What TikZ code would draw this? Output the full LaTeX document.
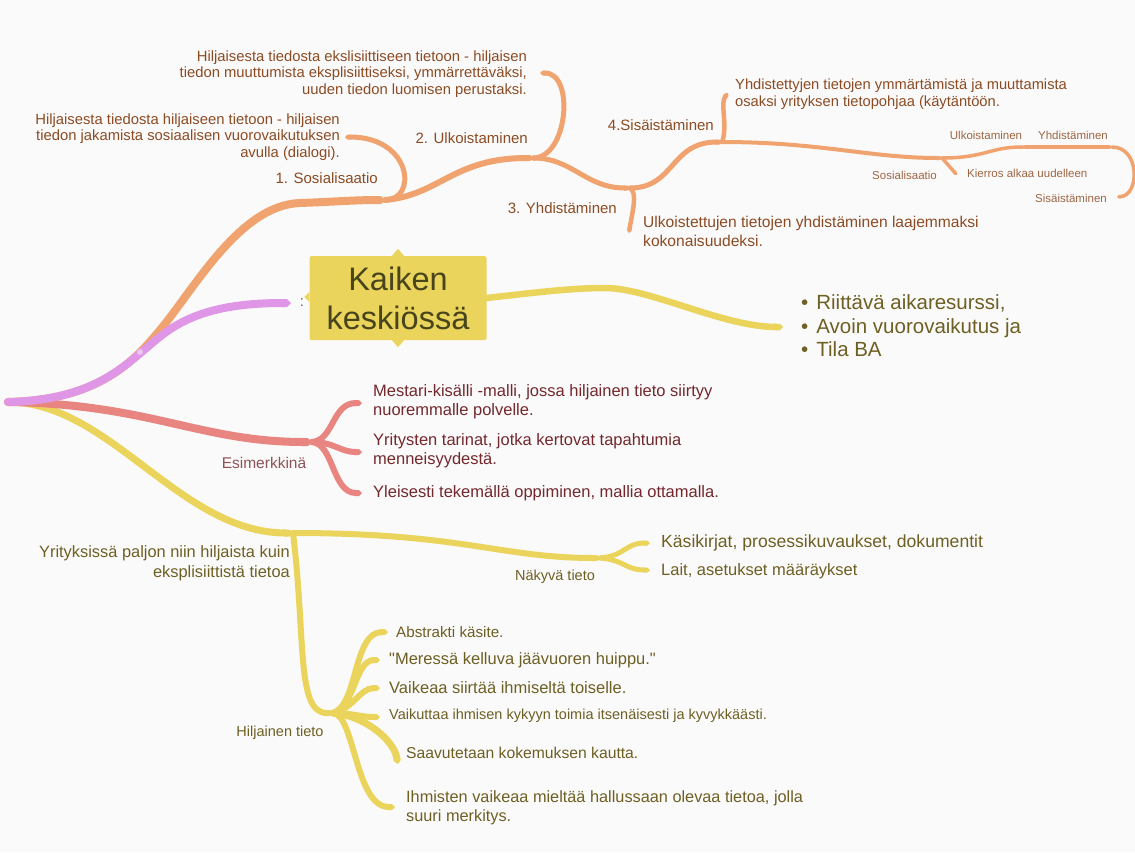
\documentclass[tikz,border=0pt]{standalone}
\usepackage{fontspec}
\setmainfont{Liberation Sans}
\usetikzlibrary{arrows.meta}

\definecolor{bgcol}{RGB}{250,250,250}
\definecolor{orangecol}{RGB}{240,163,110}
\definecolor{pinkcol}{RGB}{224,150,230}
\definecolor{redcol}{RGB}{232,133,128}
\definecolor{yellowcol}{RGB}{234,212,92}
\definecolor{orangetxt}{RGB}{140,75,35}
\definecolor{redtxt}{RGB}{115,40,45}
\definecolor{yellowtxt}{RGB}{110,95,35}
\definecolor{centretxt}{RGB}{72,68,28}

% straight double quote, kept away from the tex-text mapping
\newcommand\dquote{\XeTeXglyph\XeTeXcharglyph"22\relax}

\begin{document}
\begin{tikzpicture}[
  x=1pt, y=-1pt,
  every node/.style={inner sep=0pt},
  branch/.style={line cap=round, -{Triangle Cap[]}},
  obranch/.style={branch, draw=orangecol},
  pbranch/.style={branch, draw=pinkcol},
  rbranch/.style={branch, draw=redcol},
  ybranch/.style={branch, draw=yellowcol},
  otext/.style={text=orangetxt, font=\fontsize{14.8}{16.5}\selectfont},
  olabel/.style={text=orangetxt, font=\fontsize{15}{18}\selectfont},
  otiny/.style={text=orangetxt!85, font=\fontsize{11.5}{14}\selectfont},
  rtext/.style={text=redtxt, font=\fontsize{16.5}{19}\selectfont, align=left},
  rlabel/.style={text=redtxt!80, font=\fontsize{15.5}{18}\selectfont},
  ytext/.style={text=yellowtxt, font=\fontsize{16.5}{19}\selectfont, align=left},
  ylabel/.style={text=yellowtxt, font=\fontsize{14.5}{17}\selectfont},
  centre/.style={fill=yellowcol, text=centretxt, rounded corners=1.5pt,
    minimum width=177pt, minimum height=84pt, align=center,
    font=\fontsize{32.5}{39}\selectfont}
]
  \useasboundingbox (0,0) rectangle (1135,852);
  \fill[bgcol] (0,0) rectangle (1135,852);

  % branch points
  \coordinate (root) at (8,402);
  \coordinate (o1) at (160,330);
  \coordinate (o2) at (300,203);
  \coordinate (p1) at (150,345);
  \coordinate (j1) at (385,200);
  \coordinate (j2) at (533,158);
  \coordinate (j3) at (630,188);
  \coordinate (j4) at (722,142);
  \coordinate (j5) at (942,158);
  \coordinate (j6) at (1025,147);
  \coordinate (j7) at (1112,147);
  \coordinate (e1) at (345,137);
  \coordinate (e2) at (540,73);
  \coordinate (e3) at (629,233);
  \coordinate (e4) at (728,93);
  \coordinate (e5) at (957,175);
  \coordinate (e6) at (1117,197);
  \coordinate (pe) at (291,303);
  \coordinate (ym) at (605,288);
  \coordinate (bl) at (783,327);
  \coordinate (jr) at (312,442);
  \coordinate (r1) at (362,403);
  \coordinate (r2) at (362,452);
  \coordinate (r3) at (362,493);
  \coordinate (jy) at (293,533);
  \coordinate (jn) at (600,558);
  \coordinate (n1) at (650,543);
  \coordinate (n2) at (650,570);
  \coordinate (jh) at (333,713);
  \coordinate (h1) at (388,632);
  \coordinate (h2) at (380,660);
  \coordinate (h3) at (380,688);
  \coordinate (h4) at (380,717);
  \coordinate (h5) at (398,764);
  \coordinate (h6) at (395,807);

  % centre
  \node[centre] (centre) at (398,298) {Kaiken\\keskiössä};
  \fill[yellowcol] ([xshift=-6pt]centre.north) -- ++(6,-7) -- ++(6,7) -- cycle;
  \fill[yellowcol] ([xshift=-6pt]centre.south) -- ++(6,7) -- ++(6,-7) -- cycle;
  \fill[yellowcol] ([yshift=6pt]centre.west) -- ++(-5,5) -- ++(5,5) -- cycle;
  \node[text=centretxt!70!pinkcol, font=\fontsize{15}{18}\selectfont] (colon) at (302,303) {:};
  \node[ytext, font=\fontsize{20.5}{23.5}\selectfont, anchor=west] (list) at (801,326)
    {\textbullet\hspace{8pt}Riittävä aikaresurssi,\\
     \textbullet\hspace{8pt}Avoin vuorovaikutus ja\\
     \textbullet\hspace{8pt}Tila BA};

  % orange texts
  \node[otext, align=right, anchor=east] (sosD) at (340,137)
    {Hiljaisesta tiedosta hiljaiseen tietoon - hiljaisen\\
     tiedon jakamista sosiaalisen vuorovaikutuksen\\avulla (dialogi).};
  \node[olabel, anchor=east] (sosL) at (378,178) {1. Sosialisaatio};
  \node[otext, align=right, anchor=east] (ulkD) at (527,74)
    {Hiljaisesta tiedosta ekslisiittiseen tietoon - hiljaisen\\
     tiedon muuttumista eksplisiittiseksi, ymmärrettäväksi,\\
     uuden tiedon luomisen perustaksi.};
  \node[olabel, anchor=east] (ulkL) at (528,138) {2. Ulkoistaminen};
  \node[olabel, anchor=east] (yhdL) at (617,208) {3. Yhdistäminen};
  \node[otext, font=\fontsize{15.6}{19}\selectfont, align=left, anchor=west] (yhdD) at (643,231)
    {Ulkoistettujen tietojen yhdistäminen laajemmaksi\\kokonaisuudeksi.};
  \node[olabel, anchor=east] (sisL) at (714,125) {4.Sisäistäminen};
  \node[otext, font=\fontsize{14.7}{17}\selectfont, align=left, anchor=west] (sisD) at (735,94)
    {Yhdistettyjen tietojen ymmärtämistä ja muuttamista\\
     osaksi yrityksen tietopohjaa (käytäntöön.};
  \node[otiny, anchor=east] (kSos) at (937,175) {Sosialisaatio};
  \node[otiny, anchor=west] (kAlk) at (967,173) {Kierros alkaa uudelleen};
  \node[otiny] (kUlk) at (986,135) {Ulkoistaminen};
  \node[otiny] (kYhd) at (1073,135) {Yhdistäminen};
  \node[otiny, anchor=east] (kSis) at (1107,198) {Sisäistäminen};

  % red texts
  \node[rtext, anchor=west] (mest) at (373,402)
    {Mestari-kisälli -malli, jossa hiljainen tieto siirtyy\\nuoremmalle polvelle.};
  \node[rtext, anchor=west] (tari) at (373,451)
    {Yritysten tarinat, jotka kertovat tapahtumia\\menneisyydestä.};
  \node[rtext, anchor=west] (ylei) at (373,493)
    {Yleisesti tekemällä oppiminen, mallia ottamalla.};
  \node[rlabel] (esim) at (264,463) {Esimerkkinä};

  % yellow texts
  \node[ytext, align=right, font=\fontsize{16.4}{20}\selectfont, anchor=east] (yrit) at (290,563)
    {Yrityksissä paljon niin hiljaista kuin\\eksplisiittistä tietoa};
  \node[ylabel] (naky) at (555,577) {Näkyvä tieto};
  \node[ytext, font=\fontsize{17.6}{20}\selectfont, anchor=west] (kasi) at (661,543)
    {Käsikirjat, prosessikuvaukset, dokumentit};
  \node[ytext, anchor=west] (lait) at (661,571) {Lait, asetukset määräykset};
  \node[ylabel] (hilj) at (280,733) {Hiljainen tieto};
  \node[ytext, font=\fontsize{15.2}{18}\selectfont, anchor=west] (abs) at (396,632) {Abstrakti käsite.};
  \node[ytext, anchor=west] (mer) at (389,660) {\dquote Meressä kelluva jäävuoren huippu.\dquote};
  \node[ytext, anchor=west] (vaik) at (389,688) {Vaikeaa siirtää ihmiseltä toiselle.};
  \node[ytext, font=\fontsize{14.5}{17}\selectfont, anchor=west] (vkut) at (389,716)
    {Vaikuttaa ihmisen kykyyn toimia itsenäisesti ja kyvykkäästi.};
  \node[ytext, font=\fontsize{15.7}{18}\selectfont, anchor=west] (saav) at (406,753)
    {Saavutetaan kokemuksen kautta.};
  \node[ytext, font=\fontsize{16.3}{19}\selectfont, anchor=west] (ihm) at (406,808)
    {Ihmisten vaikeaa mieltää hallussaan olevaa tietoa, jolla\\suuri merkitys.};

  % yellow branch
  \draw[ybranch, line width=7pt] (root) .. controls +(102,0) and +(-113,0) .. (jy);
  \draw[ybranch, line width=6pt] (jy) .. controls +(170,0) and +(-100,0) .. (jn);
  \draw[ybranch, line width=5pt] (jn) .. controls +(25,-2) and +(-25,0) .. (n1);
  \draw[ybranch, line width=5pt] (jn) .. controls +(25,2) and +(-25,0) .. (n2);
  \draw[ybranch, line width=6pt] (jy) .. controls +(13,107) and +(-37,0) .. (jh);
  \draw[ybranch, line width=6pt] (jh) .. controls +(25,-8) and +(-35,0) .. (h1);
  \draw[ybranch, line width=6pt] (jh) .. controls +(22,-6) and +(-25,0) .. (h2);
  \draw[ybranch, line width=6pt] (jh) .. controls +(20,-4) and +(-20,0) .. (h3);
  \draw[ybranch, line width=6pt] (jh) .. controls +(20,0) and +(-20,0) .. (h4);
  \draw[ybranch, line width=7pt] (jh) .. controls +(30,2) and +(-5,-25) .. (h5);
  \draw[ybranch, line width=6pt] (jh) .. controls +(22,2) and +(-40,0) .. (h6);

  % red branch
  \draw[rbranch, line width=8pt] (root) .. controls +(142,2) and +(-112,0) .. (jr);
  \draw[rbranch, line width=6pt] (jr) .. controls +(22,-2) and +(-30,0) .. (r1);
  \draw[rbranch, line width=6pt] (jr) .. controls +(22,0) and +(-22,0) .. (r2);
  \draw[rbranch, line width=6pt] (jr) .. controls +(22,2) and +(-30,0) .. (r3);

  % orange branch
  \draw[obranch, line width=8pt] (root) .. controls +(92,-2) and +(-25,30) .. (o1)
    .. controls +(35,-42) and +(-60,2) .. (o2) .. controls +(30,-1) and +(-30,0) .. (j1);
  \draw[obranch, line width=5pt] (j1) .. controls +(33,0) and +(67,0) .. (e1);
  \draw[obranch, line width=6pt] (j1) .. controls +(55,-5) and +(-80,0) .. (j2);
  \draw[obranch, line width=5pt] (j2) .. controls +(35,0) and +(35,0) .. (e2);
  \draw[obranch, line width=5pt] (j2) .. controls +(40,0) and +(-45,0) .. (j3);
  \draw[obranch, line width=4.5pt] (j3) .. controls +(8,5) and +(3,-20) .. (e3);
  \draw[obranch, line width=5pt] (j3) .. controls +(45,0) and +(-52,0) .. (j4);
  \draw[obranch, line width=4.5pt] (j4) .. controls +(6,-15) and +(-8,10) .. (e4);
  \draw[obranch, line width=4pt] (j4) .. controls +(98,0) and +(-72,0) .. (j5);
  \draw[obranch, line width=3.5pt] (j5) -- (e5);
  \draw[obranch, line width=3.5pt] (j5) .. controls +(43,0) and +(-35,0) .. (j6);
  \draw[obranch, line width=3.5pt] (j6) -- (j7);
  \draw[obranch, line width=3.5pt] (j7) .. controls +(28,0) and +(23,-2) .. (e6);

  % pink branch
  \draw[pbranch, line width=8pt] (root) .. controls +(82,-2) and +(-30,25) .. (p1)
    .. controls +(25,-22) and +(-86,0) .. (pe);
  \fill[pinkcol!55!white] (140,352) circle (3);

  % right yellow branch
  \draw[ybranch, line width=6.5pt] (centre.east) .. controls +(45,-5) and +(-35,0) .. (ym)
    .. controls +(45,0) and +(-60,0) .. (bl);
\end{tikzpicture}
\end{document}
